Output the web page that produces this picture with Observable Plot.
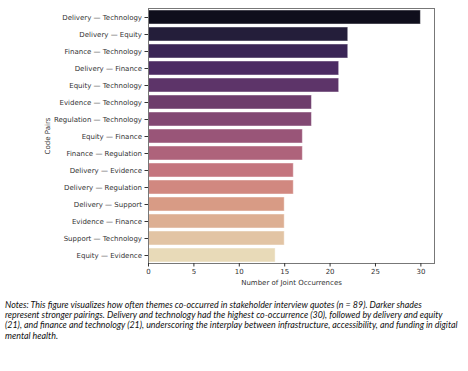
<!DOCTYPE html>
<html>
<head>
<meta charset="utf-8">
<script src="https://cdn.jsdelivr.net/npm/d3@7"></script>
<script src="https://cdn.jsdelivr.net/npm/@observablehq/plot@0.6"></script>
<style>
  html, body { margin: 0; padding: 0; background: #fff; }
  #chart svg { display: block; }
  .caption { font-family: Lato, "Open Sans", sans-serif; font-style: italic; font-size: 8.9px; line-height: 10.2px; color: #111; margin: 12px 0 0 5px; white-space: nowrap; }
</style>
</head>
<body>
<div id="chart"></div>
<div class="caption">
Notes: This figure visualizes how often themes co-occurred in stakeholder interview quotes (n = 89). Darker shades<br>
represent stronger pairings. Delivery and technology had the highest co-occurrence (30), followed by delivery and equity<br>
(21), and finance and technology (21), underscoring the interplay between infrastructure, accessibility, and funding in digital<br>
mental health.
</div>
<script>
const pairs = [
  "Delivery — Technology", "Delivery — Equity", "Finance — Technology", "Delivery — Finance",
  "Equity — Technology", "Evidence — Technology", "Regulation — Technology", "Equity — Finance",
  "Finance — Regulation", "Delivery — Evidence", "Delivery — Regulation", "Delivery — Support",
  "Evidence — Finance", "Support — Technology", "Equity — Evidence"
];
const counts = [30, 22, 22, 21, 21, 18, 18, 17, 17, 16, 16, 15, 15, 15, 14];
const xTicks = [0, 5, 10, 15, 20, 25, 30];

const data = pairs.map((p, i) => ({pair: p, count: counts[i]}));

// magma palette (n colors), desaturated
const n = pairs.length;
const palette = d3.range(n).map(i => {
  const c = d3.hsl(d3.interpolateMagma((i + 1) / (n + 1)));
  c.s *= 0.53;
  return c.formatHex();
});

const chart = Plot.plot({
  width: 468,
  height: 288,
  marginLeft: 148,
  marginRight: 34,
  marginTop: 8,
  marginBottom: 25,
  style: {fontFamily: "DejaVu Sans, sans-serif", fontSize: "7px", color: "#333"},
  x: {domain: [0, 31.5]},
  y: {domain: pairs, paddingInner: 0.2, paddingOuter: 0.1},
  color: {domain: pairs, range: palette},
  marks: [
    Plot.barX(data, {x: "count", y: "pair", fill: "pair", stroke: "white", strokeWidth: 1, strokeOpacity: 0.45}),
    Plot.frame({stroke: "#777", strokeWidth: 1}),
    Plot.axisX({ticks: xTicks, tickSize: 3.5, tickPadding: 2, label: "Number of Joint Occurrences", labelAnchor: "center", labelArrow: "none", labelOffset: 21, stroke: "#333"}),
    Plot.axisY({tickSize: 3.5, tickPadding: 3, label: "Code Pairs", labelAnchor: "center", labelArrow: "none", labelOffset: 103})
  ]
});
document.getElementById("chart").appendChild(chart);
</script>
</body>
</html>
